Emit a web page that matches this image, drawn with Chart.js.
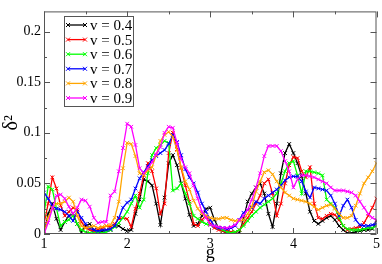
<!DOCTYPE html>
<html><head><meta charset="utf-8">
<script src="https://cdn.jsdelivr.net/npm/chart.js@4/dist/chart.umd.min.js"></script>
<style>html,body{margin:0;padding:0;background:#fff}canvas{display:block}</style>
</head><body>
<canvas id="c" width="382" height="264"></canvas>
<script>
const g = [1.00,1.05,1.10,1.15,1.20,1.25,1.30,1.35,1.40,1.45,1.50,1.55,1.60,1.65,1.70,1.75,1.80,1.85,1.90,1.95,
2.00,2.05,2.10,2.15,2.20,2.25,2.30,2.35,2.40,2.45,2.50,2.55,2.60,2.65,2.70,2.75,2.80,2.85,2.90,2.95,
3.00,3.05,3.10,3.15,3.20,3.25,3.30,3.35,3.40,3.45,3.50,3.55,3.60,3.65,3.70,3.75,3.80,3.85,3.90,3.95,
4.00,4.05,4.10,4.15,4.20,4.25,4.30,4.35,4.40,4.45,4.50,4.55,4.60,4.65,4.70,4.75,4.80,4.85,4.90,4.95,5.00];

const v04 = [0.000,0.020,0.030,0.015,0.004,0.012,0.018,0.020,0.010,0.002,0.008,0.010,0.004,0.002,0.003,0.004,0.004,0.008,0.008,0.005,
0.003,0.004,0.020,0.034,0.054,0.052,0.048,0.030,0.009,0.036,0.070,0.078,0.068,0.050,0.035,0.019,0.008,0.010,0.018,0.025,
0.026,0.014,0.006,0.003,0.001,0.001,0.000,0.001,0.015,0.032,0.040,0.046,0.050,0.040,0.020,0.007,0.030,0.060,0.080,0.089,
0.080,0.070,0.057,0.040,0.022,0.013,0.010,0.013,0.016,0.018,0.014,0.008,0.004,0.001,0.001,0.002,0.003,0.004,0.004,0.005,0.013];

const v05 = [0.010,0.030,0.056,0.045,0.028,0.018,0.022,0.026,0.024,0.012,0.006,0.004,0.003,0.004,0.006,0.008,0.007,0.010,0.015,0.016,
0.015,0.007,0.025,0.040,0.058,0.070,0.062,0.045,0.020,0.030,0.080,0.100,0.084,0.065,0.048,0.032,0.010,0.008,0.014,0.018,
0.010,0.006,0.004,0.003,0.003,0.002,0.002,0.004,0.010,0.016,0.022,0.030,0.038,0.050,0.054,0.040,0.018,0.030,0.050,0.068,
0.076,0.075,0.062,0.056,0.066,0.030,0.016,0.015,0.018,0.020,0.019,0.014,0.008,0.004,0.005,0.006,0.007,0.011,0.018,0.026,0.035];

const v06 = [0.020,0.047,0.044,0.025,0.008,0.012,0.014,0.018,0.010,0.004,0.002,0.001,0.001,0.001,0.001,0.002,0.004,0.007,0.011,0.016,
0.022,0.030,0.038,0.026,0.034,0.060,0.078,0.085,0.088,0.092,0.090,0.043,0.045,0.050,0.040,0.030,0.018,0.015,0.012,0.010,
0.009,0.008,0.006,0.004,0.002,0.001,0.002,0.004,0.008,0.013,0.018,0.022,0.026,0.029,0.032,0.035,0.040,0.050,0.062,0.070,
0.072,0.058,0.040,0.062,0.062,0.061,0.060,0.058,0.034,0.030,0.026,0.016,0.008,0.005,0.004,0.004,0.004,0.005,0.006,0.006,0.008];

const v07 = [0.041,0.035,0.028,0.025,0.024,0.022,0.018,0.013,0.022,0.016,0.010,0.006,0.004,0.003,0.004,0.004,0.005,0.008,0.016,0.026,
0.031,0.034,0.045,0.055,0.061,0.067,0.073,0.077,0.080,0.083,0.089,0.098,0.091,0.078,0.064,0.056,0.050,0.041,0.030,0.022,
0.014,0.008,0.006,0.006,0.005,0.006,0.008,0.014,0.021,0.024,0.026,0.032,0.030,0.035,0.038,0.041,0.044,0.048,0.053,0.056,
0.057,0.057,0.052,0.042,0.036,0.046,0.045,0.044,0.043,0.038,0.030,0.018,0.028,0.034,0.026,0.014,0.009,0.008,0.008,0.009,0.010];

const v08 = [0.000,0.016,0.026,0.030,0.030,0.032,0.036,0.032,0.018,0.008,0.006,0.007,0.008,0.006,0.007,0.008,0.009,0.016,0.032,0.065,
0.090,0.089,0.077,0.060,0.058,0.063,0.066,0.078,0.092,0.098,0.101,0.096,0.083,0.066,0.052,0.044,0.033,0.025,0.020,0.018,
0.016,0.015,0.015,0.016,0.016,0.014,0.013,0.013,0.014,0.020,0.027,0.042,0.052,0.061,0.063,0.059,0.052,0.046,0.041,0.038,
0.035,0.034,0.033,0.032,0.030,0.027,0.024,0.026,0.028,0.029,0.025,0.020,0.016,0.016,0.018,0.028,0.040,0.050,0.056,0.062,0.070];

const v09 = [0.000,0.011,0.025,0.038,0.039,0.035,0.027,0.020,0.026,0.034,0.033,0.027,0.016,0.011,0.012,0.012,0.038,0.042,0.062,0.085,
0.109,0.106,0.088,0.065,0.060,0.065,0.071,0.079,0.086,0.100,0.106,0.105,0.090,0.074,0.066,0.060,0.048,0.035,0.022,0.016,
0.009,0.008,0.007,0.006,0.006,0.007,0.009,0.014,0.018,0.024,0.034,0.046,0.060,0.077,0.087,0.087,0.087,0.082,0.072,0.062,
0.046,0.054,0.058,0.058,0.057,0.056,0.054,0.052,0.050,0.046,0.043,0.043,0.043,0.042,0.041,0.038,0.032,0.026,0.020,0.016,0.014];

const seriesLabels = ['v = 0.4','v = 0.5','v = 0.6','v = 0.7','v = 0.8','v = 0.9'];
const seriesColors = ['#000000','#ff0000','#00ff00','#0000ff','#ffa500','#ff00ff'];
const seriesValues = [v04, v05, v06, v07, v08, v09];
const xTicks = [1, 2, 3, 4, 5];
const yTicks = [0, 0.05, 0.1, 0.15, 0.2];
const xMinorTicks = [1.5, 2.5, 3.5, 4.5];
const yMinorTicks = [0.025, 0.075, 0.125, 0.175];

const FONT = "'Liberation Serif','Times New Roman',serif";

const datasets = seriesValues.map((vals, i) => ({
  label: seriesLabels[i],
  data: vals.map((y, k) => ({x: g[k], y: y})),
  borderColor: seriesColors[i],
  backgroundColor: seriesColors[i],
  borderWidth: 1.3,
  pointStyle: 'crossRot',
  pointRadius: 2.6,
  pointBorderWidth: 1,
  tension: 0,
  order: 5 - i
}));

const framePlugin = {
  id: 'frame',
  afterDatasetsDraw(chart) {
    const ctx = chart.ctx, a = chart.chartArea;
    const xs = chart.scales.x, ys = chart.scales.y;
    ctx.save();
    ctx.strokeStyle = '#555';
    ctx.lineWidth = 1;
    ctx.strokeRect(a.left + 0.5, a.top + 0.5, a.right - a.left - 1, a.bottom - a.top - 1);
    ctx.beginPath();
    const tick = (vals, len) => {
      vals.forEach(v => {
        const px = Math.round(xs.getPixelForValue(v)) + 0.5;
        ctx.moveTo(px, a.bottom); ctx.lineTo(px, a.bottom - len);
        ctx.moveTo(px, a.top); ctx.lineTo(px, a.top + len);
      });
    };
    const tickY = (vals, len) => {
      vals.forEach(v => {
        const py = Math.round(ys.getPixelForValue(v)) + 0.5;
        ctx.moveTo(a.left, py); ctx.lineTo(a.left + len, py);
        ctx.moveTo(a.right, py); ctx.lineTo(a.right - len, py);
      });
    };
    tick(xTicks, 6); tick(xMinorTicks, 3);
    tickY(yTicks, 6); tickY(yMinorTicks, 3);
    ctx.stroke();

    // legend box
    const bx = 64, by = 16, bw = 69, bh = 90, rowH = 14.6;
    ctx.fillStyle = '#fff';
    ctx.fillRect(bx, by, bw, bh);
    ctx.strokeStyle = '#555';
    ctx.strokeRect(bx + 0.5, by + 0.5, bw, bh);
    ctx.font = '15px ' + FONT;
    ctx.textBaseline = 'middle';
    chart.data.datasets.forEach((ds, i) => {
      const yy = by + 9 + i * rowH;
      ctx.strokeStyle = ds.borderColor;
      ctx.lineWidth = 1.3;
      ctx.beginPath(); ctx.moveTo(68, yy); ctx.lineTo(85, yy); ctx.stroke();
      ctx.lineWidth = 1;
      [68, 85].forEach(cx => {
        ctx.beginPath();
        ctx.moveTo(cx - 2, yy - 2); ctx.lineTo(cx + 2, yy + 2);
        ctx.moveTo(cx - 2, yy + 2); ctx.lineTo(cx + 2, yy - 2);
        ctx.stroke();
      });
      ctx.fillStyle = '#000';
      ctx.fillText(ds.label, 90, yy + 1);
    });
    ctx.restore();
  }
};

new Chart(document.getElementById('c'), {
  type: 'line',
  data: { datasets },
  options: {
    responsive: false,
    animation: false,
    devicePixelRatio: 1,
    layout: { padding: { top: 1, right: 4, left: 0, bottom: 0 } },
    plugins: { legend: { display: false }, tooltip: { enabled: false } },
    scales: {
      x: {
        type: 'linear', min: 1, max: 5,
        grid: { display: false, drawTicks: false },
        border: { display: false },
        afterBuildTicks: s => { s.ticks = xTicks.map(v => ({value: v})); },
        afterFit: s => { s.height = 30; },
        ticks: { font: { family: FONT, size: 14 }, color: '#000', padding: 2, maxRotation: 0, autoSkip: false },
        title: { display: true, text: 'g', font: { family: FONT, size: 18 }, color: '#000', padding: { top: 0, bottom: 0 } }
      },
      y: {
        min: 0, max: 0.22,
        grid: { display: false, drawTicks: false },
        border: { display: false },
        afterBuildTicks: s => { s.ticks = yTicks.map(v => ({value: v})); },
        afterFit: s => { s.width = 44; },
        ticks: { font: { family: FONT, size: 14 }, color: '#000', padding: 3,
                 callback: v => String(+v.toFixed(3)) },
        title: { display: true, text: 'δ²', font: { family: FONT, size: 20 }, color: '#000', padding: { top: 0, bottom: 0 } }
      }
    }
  },
  plugins: [framePlugin]
});
</script>
</body></html>
